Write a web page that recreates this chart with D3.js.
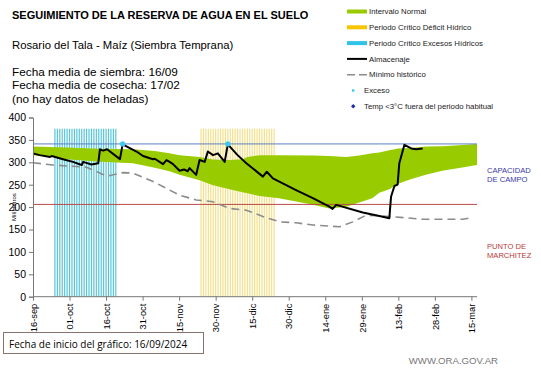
<!DOCTYPE html>
<html>
<head>
<meta charset="utf-8">
<script src="https://cdn.jsdelivr.net/npm/d3@7"></script>
<style>
  body { margin: 0; background: #fff; }
  svg { font-family: "Liberation Sans", Arial, sans-serif; }
</style>
</head>
<body>
<svg id="chart" width="541" height="368"></svg>
<script>
// days counted from 16-sep-2024
const tickDays = [0, 15, 30, 45, 60, 75, 90, 105, 120, 135, 150, 165, 180];
const tickLabels = ["16-sep", "01-oct", "16-oct", "31-oct", "15-nov", "30-nov", "15-dic",
                    "30-dic", "14-ene", "29-ene", "13-feb", "28-feb", "15-mar"];
const yTicks = [0, 50, 100, 150, 200, 250, 300, 350, 400];

const normalDays  = [0, 7, 13.8, 27.5, 41, 50, 56, 60.2, 68.4, 73.9, 80.7, 86, 88, 93, 101, 115, 121.7, 128.6, 134, 139.3, 142.2, 146.3, 150, 155, 161.3, 168, 175, 182.3];
const normalUpper = [335, 334, 333, 330, 329, 325, 320, 316, 312, 306, 305, 307, 312, 316, 316, 315, 314, 312, 315, 320, 322, 327, 331, 332, 335, 336, 338, 341];
const normalLower = [316, 313, 307, 301, 298, 288, 280, 272, 260, 249, 240, 233, 231, 225, 220, 205, 197, 201, 210, 220, 232, 240, 252, 262, 272, 281, 287, 294];

const almDays   = [0, 2.7, 7, 7.7, 12.3, 16.4, 20, 20.6, 24, 26.8, 27.5, 28.8, 30.4, 35.7, 36.8, 42.5, 45.2, 48, 49.3, 50, 53.4, 54.8, 56.1, 57.5, 60.2, 62, 63.5, 64.3, 67, 68.4, 70.5, 71.8, 73.9, 75.9, 78.7, 80, 84, 87.6, 94.4, 96, 98.5, 108, 114.9, 121.7, 123, 124.5, 135.4, 142.2, 146.3, 147, 148.4, 149.7, 150.4, 152.5, 155.3, 157.3, 160];
const almValues = [320, 316, 312, 314, 307, 301, 294, 301, 295, 298, 329, 326, 329, 307, 340, 324, 314, 309, 307, 308, 296, 305, 301, 296, 281, 284, 280, 287, 272, 305, 301, 324, 316, 320, 301, 340, 316, 298, 268, 279, 264, 238, 220, 201, 196, 205, 188, 180, 175, 223, 247, 250, 298, 339, 331, 329, 331];

const minDays   = [0, 8, 22, 30.2, 36.8, 41, 49.3, 56.1, 60, 67, 73.9, 80.7, 87.6, 94.4, 101.3, 108, 115, 125.9, 131.3, 136.8, 146.3, 160, 176.5, 180.5];
const minValues = [299, 294, 289, 269, 277, 276, 257, 238, 227, 216, 212, 197, 193, 179, 167, 165, 160, 156, 167, 182, 179, 173, 173, 177];

const excessDays   = [36.8, 80];
const excessValues = [341, 341];

const excessPeriod  = [9, 34];   // Periodo crítico excesos hídricos
const deficitPeriod = [69, 99];  // Periodo crítico déficit hídrico
const periodTop = 375;

const fieldCapacity = 341;
const wiltingPoint = 206;

const svg = d3.select("#chart");
const x = d3.scaleLinear().domain([0, 182.3]).range([33, 477]);
const y = d3.scaleLinear().domain([0, 400]).range([296.7, 117.5]);

// header texts
svg.append("text").attr("x", 12).attr("y", 19)
  .style("font-weight", "bold").style("font-size", "11px")
  .text("SEGUIMIENTO DE LA RESERVA DE AGUA  EN EL SUELO");
svg.append("text").attr("x", 12).attr("y", 49).style("font-size", "11.3px")
  .text("Rosario del Tala - Maíz (Siembra Temprana)");
const info = ["Fecha media de siembra: 16/09", "Fecha media de cosecha: 17/02", "(no hay  datos de heladas)"];
svg.selectAll("text.info").data(info).enter().append("text")
  .attr("class", "info")
  .attr("x", 12).attr("y", (d, i) => 76 + i * 13.3)
  .style("font-size", "11.8px")
  .text(d => d);

// critical period stripes
const stripes = [
  { days: d3.range(excessPeriod[0], excessPeriod[1] + 1), color: "#55c6d8" },
  { days: d3.range(deficitPeriod[0], deficitPeriod[1] + 1), color: "#f3e08a" }
];
stripes.forEach(s => {
  svg.append("g").selectAll("line").data(s.days).enter().append("line")
    .attr("x1", d => x(d)).attr("x2", d => x(d))
    .attr("y1", y(0)).attr("y2", y(periodTop))
    .attr("stroke", s.color).attr("stroke-width", 1.2);
});

// normal interval
const band = normalDays.map((d, i) => ({ day: d, hi: normalUpper[i], lo: normalLower[i] }));
svg.append("path").datum(band)
  .attr("fill", "#99cc00")
  .attr("d", d3.area().x(d => x(d.day)).y0(d => y(d.lo)).y1(d => y(d.hi)));

// field capacity / wilting point
svg.append("line").attr("x1", x(0)).attr("x2", x(182.3))
  .attr("y1", y(fieldCapacity)).attr("y2", y(fieldCapacity))
  .attr("stroke", "#5a7fc4").attr("stroke-width", 1);
svg.append("line").attr("x1", x(0)).attr("x2", x(182.3))
  .attr("y1", y(wiltingPoint)).attr("y2", y(wiltingPoint))
  .attr("stroke", "#b94a48").attr("stroke-width", 1);

// historic minimum
svg.append("path").datum(minDays.map((d, i) => [d, minValues[i]]))
  .attr("fill", "none").attr("stroke", "#8c8c8c").attr("stroke-width", 1.6)
  .attr("stroke-dasharray", "8,5")
  .attr("d", d3.line().x(d => x(d[0])).y(d => y(d[1])));

// storage
svg.append("path").datum(almDays.map((d, i) => [d, almValues[i]]))
  .attr("fill", "none").attr("stroke", "#000").attr("stroke-width", 2)
  .attr("stroke-linejoin", "round")
  .attr("d", d3.line().x(d => x(d[0])).y(d => y(d[1])));

svg.append("g").selectAll("circle").data(excessDays).enter().append("circle")
  .attr("cx", d => x(d)).attr("cy", (d, i) => y(excessValues[i]))
  .attr("r", 2.6).attr("fill", "#3ccbea");

// axes
const yAxis = svg.append("g").attr("transform", `translate(${x(0)},0)`)
  .call(d3.axisLeft(y).tickValues(yTicks).tickSize(4).tickPadding(3));
yAxis.selectAll("text").style("font-size", "10.5px").attr("fill", "#000")
  .style("font-family", "'Liberation Sans', Arial, sans-serif");
yAxis.selectAll("line, path").attr("stroke", "#777");

const xAxis = svg.append("g").attr("transform", `translate(0,${y(0)})`)
  .call(d3.axisBottom(x).tickValues(tickDays).tickFormat((d, i) => tickLabels[i]).tickSize(4));
xAxis.select("path").attr("d", `M${x(0)},0H${x(182.3)}`);
xAxis.selectAll("line, path").attr("stroke", "#777");
xAxis.selectAll("text")
  .style("font-size", "9.3px").attr("fill", "#000")
  .style("font-family", "'Liberation Sans', Arial, sans-serif")
  .attr("transform", "rotate(-90)")
  .attr("text-anchor", "end")
  .attr("x", -7).attr("y", 0).attr("dy", "0.35em");

svg.append("text")
  .attr("transform", `translate(16,${y(200)}) rotate(-90)`)
  .attr("text-anchor", "middle")
  .style("font-size", "6px")
  .text("Milímetros");

// side labels
svg.append("text").attr("x", 487).attr("y", 173).attr("fill", "#3a3aa8").style("font-size", "7.6px")
  .text("CAPACIDAD");
svg.append("text").attr("x", 487).attr("y", 182).attr("fill", "#3a3aa8").style("font-size", "7.6px")
  .text("DE  CAMPO");
svg.append("text").attr("x", 487).attr("y", 249).attr("fill", "#b83a3a").style("font-size", "7.6px")
  .text("PUNTO  DE");
svg.append("text").attr("x", 487).attr("y", 258).attr("fill", "#b83a3a").style("font-size", "7.6px")
  .text("MARCHITEZ");

// legend
const legendItems = [
  { label: "Intervalo Normal", type: "bar", color: "#99cc00" },
  { label: "Periodo Crítico Déficit Hídrico", type: "bar", color: "#f7c600" },
  { label: "Periodo Crítico Excesos Hídricos", type: "bar", color: "#2ec4ea" },
  { label: "Almacenaje", type: "line", color: "#000" },
  { label: "Mínimo histórico", type: "dash", color: "#8c8c8c" },
  { label: "Exceso", type: "dot", color: "#3ccbea" },
  { label: "Temp <3°C fuera del periodo habitual", type: "diamond", color: "#1f2fa0" }
];
const legend = svg.append("g").attr("transform", "translate(347,11.5)");
const item = legend.selectAll("g").data(legendItems).enter().append("g")
  .attr("transform", (d, i) => `translate(0,${i * 15.8})`);
item.filter(d => d.type === "bar").append("rect")
  .attr("x", 0).attr("y", -2).attr("width", 20).attr("height", 4).attr("fill", d => d.color);
item.filter(d => d.type === "line").append("line")
  .attr("x1", 0).attr("x2", 20).attr("stroke", d => d.color).attr("stroke-width", 2);
item.filter(d => d.type === "dash").append("line")
  .attr("x1", 0).attr("x2", 20).attr("stroke", d => d.color).attr("stroke-width", 1.5)
  .attr("stroke-dasharray", "8,4");
item.filter(d => d.type === "dot").append("rect")
  .attr("x", 5).attr("y", -1.2).attr("width", 2.4).attr("height", 2.4).attr("fill", d => d.color);
item.filter(d => d.type === "diamond").append("path")
  .attr("d", "M6.2,-2.2L8.4,0L6.2,2.2L4,0Z").attr("fill", d => d.color);
item.append("text")
  .attr("x", d => d.type === "dot" || d.type === "diamond" ? 17 : 22)
  .attr("y", 0).attr("dy", "0.35em")
  .attr("fill", "#222").style("font-size", "7.8px")
  .text(d => d.label);

// footer
svg.append("rect").attr("x", 3.5).attr("y", 332.5).attr("width", 200).attr("height", 21)
  .attr("fill", "none").attr("stroke", "#8a7272").attr("stroke-width", 1);
svg.append("text").attr("x", 9).attr("y", 347.5).style("font-size", "10px")
  .style("font-family", "'Open Sans', sans-serif")
  .text("Fecha de inicio del gráfico:   16/09/2024");
svg.append("text").attr("x", 498).attr("y", 364).attr("text-anchor", "end")
  .attr("fill", "#777").style("font-size", "9.6px")
  .text("WWW.ORA.GOV.AR");
</script>
</body>
</html>
